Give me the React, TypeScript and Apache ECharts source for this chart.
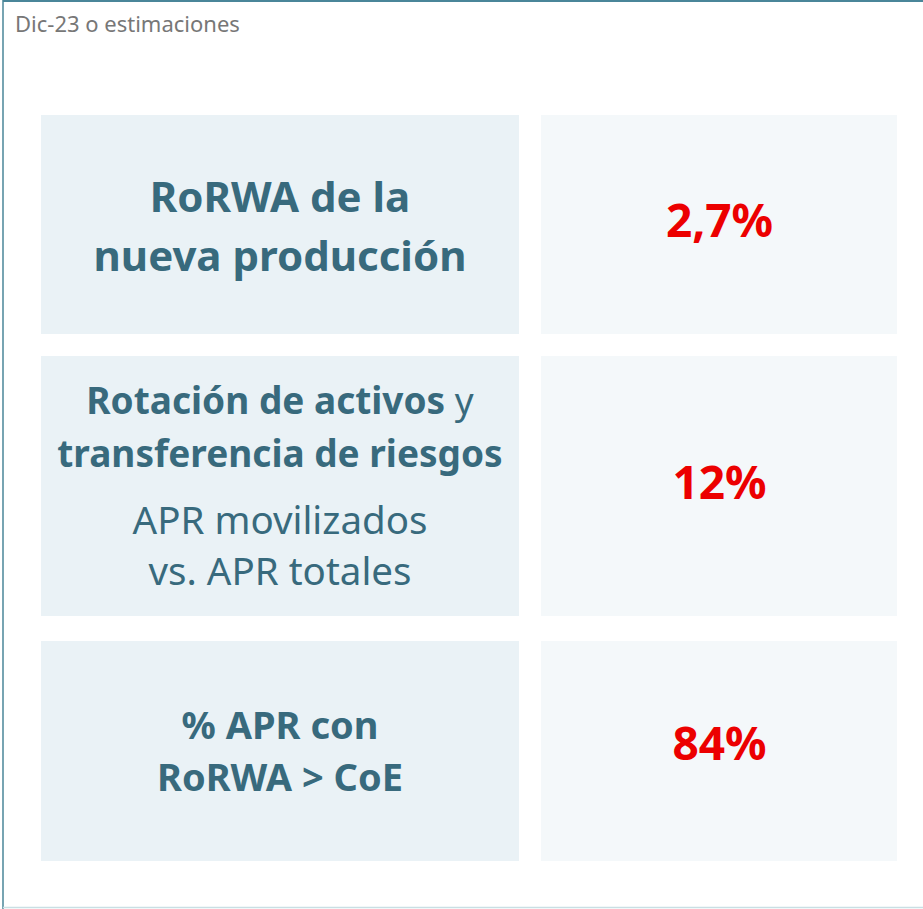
import React, { useEffect, useRef } from "react";
import * as echarts from "echarts";

const subtitle = "Dic-23 o estimaciones";
// each row: list of lines, each line a list of [text, style key]
const row1Lines: [string, string][][] = [
  [["RoRWA de la", "h"]],
  [["nueva producción", "h"]],
];
const row2Lines: [string, string][][] = [
  [["Rotación de activos", "b"], [" y", "r"]],
  [["transferencia de riesgos", "b"]],
  [["APR movilizados", "s"]],
  [["vs. APR totales", "s"]],
];
const row3Lines: [string, string][][] = [
  [["% APR con", "c"]],
  [["RoRWA > CoE", "c"]],
];
const rowLabels = [row1Lines, row2Lines, row3Lines];
const rowValues = ["2,7%", "12%", "84%"];

const FONT = "'Noto Sans', 'Open Sans', sans-serif";
const TEAL = "#386a7d";
const RED = "#ec0000";

export default function App() {
  const ref = useRef<HTMLDivElement>(null);
  useEffect(() => {
    document.body.style.margin = "0";
    const chart = echarts.init(ref.current!, undefined, { renderer: "svg" });

    const rowsY = [
      [115, 334],
      [356, 616],
      [641, 861],
    ];
    // visual centres of each line per row
    const centres = [
      [197, 256],
      [401, 454, 521, 572],
      [726, 778],
    ];
    const valueCentres = [222, 484, 745];
    const sizes: Record<string, [number, string]> = {
      h: [42, "bold"],
      b: [37, "bold"],
      r: [37, "normal"],
      s: [38.5, "normal"],
      c: [38, "bold"],
    };

    const elements: any[] = [];
    // frame
    elements.push({
      type: "line",
      shape: { x1: 3, y1: 1, x2: 923, y2: 1 },
      style: { stroke: "#4a8699", lineWidth: 2 },
    });
    elements.push({
      type: "line",
      shape: { x1: 3, y1: 0, x2: 3, y2: 909 },
      style: { stroke: "#4a8699", lineWidth: 1.5 },
    });
    elements.push({
      type: "line",
      shape: { x1: 3, y1: 907.5, x2: 923, y2: 907.5 },
      style: { stroke: "#c9dfe4", lineWidth: 1.5 },
    });
    elements.push({
      type: "text",
      x: 15,
      y: 23,
      style: {
        text: subtitle,
        font: `normal 22px ${FONT}`,
        fill: "#777777",
        textAlign: "left",
        textVerticalAlign: "middle",
      },
    });

    rowsY.forEach(([y0, y1], i) => {
      elements.push({
        type: "rect",
        shape: { x: 41, y: y0, width: 478, height: y1 - y0 },
        style: { fill: "#eaf2f6" },
      });
      elements.push({
        type: "rect",
        shape: { x: 541, y: y0, width: 356, height: y1 - y0 },
        style: { fill: "#f4f8fa" },
      });
      rowLabels[i].forEach((line, j) => {
        const rich: any = {};
        let text = "";
        line.forEach(([t, w]) => {
          const [sz, wt] = sizes[w];
          rich[w] = { fontSize: sz, fontWeight: wt, fontFamily: FONT, fill: TEAL };
          text += `{${w}|${t}}`;
        });
        elements.push({
          type: "text",
          x: 280,
          y: centres[i][j] - 2,
          style: {
            text,
            rich,
            textAlign: "center",
            textVerticalAlign: "middle",
          },
        });
      });
      elements.push({
        type: "text",
        x: 719.5,
        y: valueCentres[i] - 3,
        style: {
          text: rowValues[i],
          font: `bold 46px ${FONT}`,
          fill: RED,
          textAlign: "center",
          textVerticalAlign: "middle",
        },
      });
    });

    chart.setOption({
      animation: false,
      backgroundColor: "#ffffff",
      graphic: { elements },
    });
    return () => chart.dispose();
  }, []);
  return <div ref={ref} style={{ width: 923, height: 909 }} />;
}
